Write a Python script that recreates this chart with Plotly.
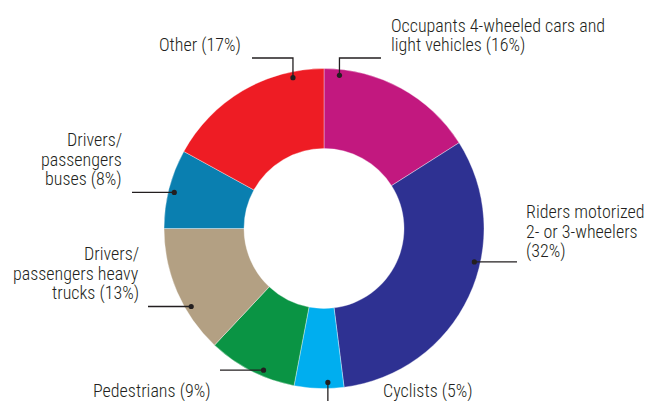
import math
import plotly.graph_objects as go

# ---- data ----
categories = [
    "Occupants 4-wheeled cars and light vehicles",
    "Riders motorized 2- or 3-wheelers",
    "Cyclists",
    "Pedestrians",
    "Drivers/passengers heavy trucks",
    "Drivers/passengers buses",
    "Other",
]
shares = [16, 32, 5, 9, 13, 8, 17]
label_lines = [
    ["Occupants 4-wheeled cars and", "light vehicles (16%)"],
    ["Riders motorized", "2- or 3-wheelers", "(32%)"],
    ["Cyclists (5%)"],
    ["Pedestrians (9%)"],
    ["Drivers/", "passengers heavy", "trucks (13%)"],
    ["Drivers/", "passengers", "buses (8%)"],
    ["Other (17%)"],
]

# ---- style / layout ----
colors = ["#C2187F", "#2E3192", "#00AEEF", "#0A9444", "#B3A083", "#0A7FB0", "#EE1C24"]
W, H = 647, 401
CX, CY, R = 324, 228.5, 160
HOLE = 0.5
DOT_R = 154
FONT = "Roboto Condensed, Liberation Sans Narrow, Arial Narrow, Roboto, sans-serif"
FS = 18
TXT = "#231F20"
LINE_SP = 20

# per label: anchor position as fraction of slice, route, text placement
leaders = [
    dict(frac=0.10, route=("vh", 58, 381), text=(389, 25, "left")),
    dict(frac=0.39, route=("h", 517), text=(524, 211, "left")),
    dict(frac=0.32, route=("v", 401), text=(381, 391, "left")),
    dict(frac=0.38, route=("h", 220), text=(212, 391, "right")),
    dict(frac=0.35, route=("h", 148), text=(141, 253, "right")),
    dict(frac=0.47, route=("h", 132), text=(124, 139, "right")),
    dict(frac=0.81, route=("vh", 58, 252), text=(243, 45, "right")),
]


def px(x):
    return x / W


def py(y):
    return 1 - y / H


fig = go.Figure(
    go.Pie(
        labels=categories,
        values=shares,
        sort=False,
        direction="clockwise",
        rotation=0,
        hole=HOLE,
        marker=dict(colors=colors, line=dict(color="rgba(255,255,255,0.6)", width=0.6)),
        textinfo="none",
        hoverinfo="label+percent",
        domain=dict(x=[(CX - R) / W, (CX + R) / W], y=[1 - (CY + R) / H, 1 - (CY - R) / H]),
        showlegend=False,
    )
)

shapes = []
annotations = []
total = sum(shares)
cum = 0
for share, lines, ld in zip(shares, label_lines, leaders):
    start = cum / total * 360
    span = share / total * 360
    cum += share
    th = math.radians(start + ld["frac"] * span)
    dx = CX + DOT_R * math.sin(th)
    dy = CY - DOT_R * math.cos(th)
    route = ld["route"]
    if route[0] == "vh":
        pts = [(dx, dy), (dx, route[1]), (route[2], route[1])]
    elif route[0] == "h":
        pts = [(dx, dy), (route[1], dy)]
    else:
        pts = [(dx, dy), (dx, route[1])]
    path = "M " + " L ".join(f"{px(x):.5f},{py(y):.5f}" for x, y in pts)
    shapes.append(dict(type="path", xref="paper", yref="paper", path=path,
                       line=dict(color="#231F20", width=1.3)))
    shapes.append(dict(type="circle", xref="paper", yref="paper",
                       x0=px(dx - 2.6), x1=px(dx + 2.6), y0=py(dy + 2.6), y1=py(dy - 2.6),
                       fillcolor="#231F20", line=dict(width=0)))
    tx, ty, al = ld["text"]
    for i, ln in enumerate(lines):
        annotations.append(dict(
            text=ln, x=px(tx), y=py(ty + i * LINE_SP), xref="paper", yref="paper",
            xanchor=al, yanchor="middle", showarrow=False, align=al,
            font=dict(family=FONT, size=FS, color=TXT, weight=300),
        ))

fig.update_layout(
    width=W, height=H,
    margin=dict(l=0, r=0, t=0, b=0),
    paper_bgcolor="white", plot_bgcolor="white",
    shapes=shapes, annotations=annotations,
)
fig.write_html(
    "out.html",
    config={"displayModeBar": False},
    post_script="document.body.style.margin='0';document.body.style.overflow='hidden';",
)
